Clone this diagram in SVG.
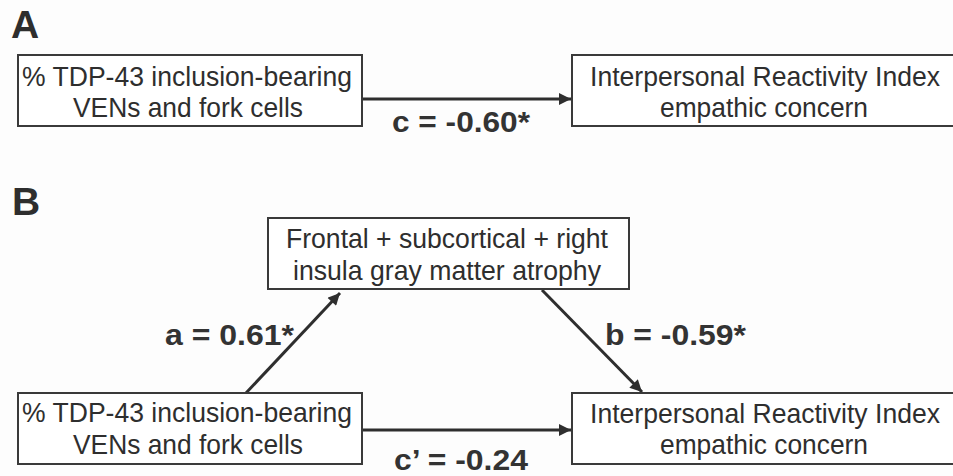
<svg xmlns="http://www.w3.org/2000/svg" width="953" height="476" viewBox="0 0 953 476">
<defs>
<style>
.box{fill:#ffffff;stroke:#3a3a3a;stroke-width:2}
.t{font-family:"Liberation Sans",Arial,Helvetica,sans-serif;font-size:27.5px;fill:#2e2e2e;text-anchor:middle}
.lbl{font-family:"Liberation Sans",Arial,Helvetica,sans-serif;font-size:29.5px;font-weight:bold;fill:#333333}
.panel{font-family:"Liberation Sans",Arial,Helvetica,sans-serif;font-size:39px;font-weight:bold;fill:#2e2e2e}
.edge{stroke:#2e2e2e;stroke-width:3;fill:none}
</style>
<marker id="ah" viewBox="0 0 10 10" refX="10" refY="5" markerWidth="7.5" markerHeight="4" markerUnits="strokeWidth" orient="auto">
<path d="M0,0 L10,5 L0,10 z" fill="#2e2e2e"/>
</marker>
</defs>
<rect width="953" height="476" fill="#fdfdfd"/>
<text class="panel" x="11" y="38">A</text>
<text class="panel" x="12" y="215">B</text>

<g id="connectors">
<line class="edge" x1="362" y1="99" x2="571" y2="99" marker-end="url(#ah)"/>
<line class="edge" x1="246" y1="393" x2="340" y2="293" marker-end="url(#ah)"/>
<line class="edge" x1="542" y1="290" x2="642" y2="392" marker-end="url(#ah)"/>
<line class="edge" x1="362" y1="430" x2="571" y2="430" marker-end="url(#ah)"/>
<text class="lbl" x="392" y="132" textLength="138" lengthAdjust="spacingAndGlyphs">c = -0.60*</text>
<text class="lbl" x="165" y="345" textLength="129" lengthAdjust="spacingAndGlyphs">a = 0.61*</text>
<text class="lbl" x="605" y="345" textLength="141" lengthAdjust="spacingAndGlyphs">b = -0.59*</text>
<text class="lbl" x="394" y="470" textLength="134" lengthAdjust="spacingAndGlyphs">c’ = -0.24</text>
</g>

<g id="a-predictor">
<rect class="box" x="18" y="55" width="344" height="71"/>
<text class="t" x="187" y="86" textLength="330" lengthAdjust="spacingAndGlyphs">% TDP-43 inclusion-bearing</text>
<text class="t" x="188" y="117" textLength="230" lengthAdjust="spacingAndGlyphs">VENs and fork cells</text>
</g>
<g id="a-outcome">
<rect class="box" x="572" y="55" width="390" height="71"/>
<text class="t" x="765" y="86" textLength="350" lengthAdjust="spacingAndGlyphs">Interpersonal Reactivity Index</text>
<text class="t" x="764" y="117" textLength="208" lengthAdjust="spacingAndGlyphs">empathic concern</text>
</g>

<g id="b-mediator">
<rect class="box" x="268" y="218" width="361" height="71"/>
<text class="t" x="447" y="248" textLength="322" lengthAdjust="spacingAndGlyphs">Frontal + subcortical + right</text>
<text class="t" x="447" y="280" textLength="308" lengthAdjust="spacingAndGlyphs">insula gray matter atrophy</text>
</g>
<g id="b-predictor">
<rect class="box" x="18" y="393" width="344" height="71"/>
<text class="t" x="187" y="422" textLength="330" lengthAdjust="spacingAndGlyphs">% TDP-43 inclusion-bearing</text>
<text class="t" x="188" y="454" textLength="230" lengthAdjust="spacingAndGlyphs">VENs and fork cells</text>
</g>
<g id="b-outcome">
<rect class="box" x="572" y="393" width="390" height="71"/>
<text class="t" x="765" y="423" textLength="350" lengthAdjust="spacingAndGlyphs">Interpersonal Reactivity Index</text>
<text class="t" x="764" y="454" textLength="208" lengthAdjust="spacingAndGlyphs">empathic concern</text>
</g>
</svg>
